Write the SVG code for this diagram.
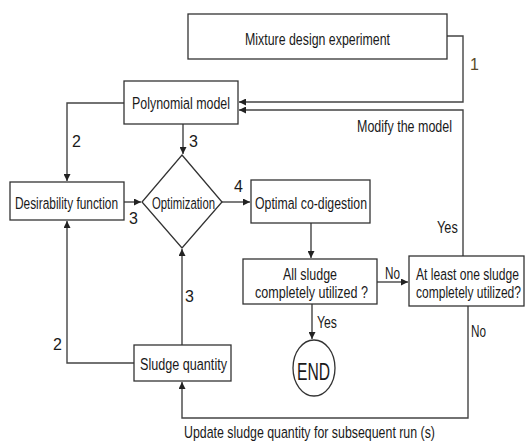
<svg xmlns="http://www.w3.org/2000/svg" width="525" height="443" viewBox="0 0 525 443">
<style>
.box{fill:#fff;stroke:#333;stroke-width:1.3}
.ln{fill:none;stroke:#444;stroke-width:1.4}
text{font-family:"Liberation Sans Narrow","Arial Narrow","Liberation Sans",Arial,sans-serif;font-size:17px;fill:#1a1a1a}
.lb{font-size:16px}
</style>
<defs>
<marker id="ah" viewBox="0 0 8 8" refX="8" refY="4" markerWidth="7" markerHeight="7" markerUnits="userSpaceOnUse" orient="auto">
<path d="M0,0 L8,4 L0,8 z" fill="#222"/>
</marker>
</defs>
<rect width="525" height="443" fill="#fff"/>
<g id="connectors">
<polyline class="ln" points="447,36 463,36 463,102 239,102" marker-end="url(#ah)"/>
<polyline class="ln" points="463,256 463,110 239,110" marker-end="url(#ah)"/>
<polyline class="ln" points="124,103 67,103 67,181" marker-end="url(#ah)"/>
<line class="ln" x1="183" y1="124" x2="183" y2="154" marker-end="url(#ah)"/>
<line class="ln" x1="124" y1="202" x2="141" y2="202" marker-end="url(#ah)"/>
<line class="ln" x1="222" y1="202" x2="250" y2="202" marker-end="url(#ah)"/>
<line class="ln" x1="311" y1="223" x2="311" y2="258" marker-end="url(#ah)"/>
<line class="ln" x1="377" y1="282" x2="408" y2="282" marker-end="url(#ah)"/>
<line class="ln" x1="312" y1="304" x2="312" y2="339" marker-end="url(#ah)"/>
<polyline class="ln" points="468,306 468,418 182,418 182,382" marker-end="url(#ah)"/>
<line class="ln" x1="182" y1="345" x2="182" y2="249" marker-end="url(#ah)"/>
<polyline class="ln" points="134,363 67,363 67,221" marker-end="url(#ah)"/>
</g>
<g id="labels">
<text class="lb" x="470" y="70" style="fill:#5a4a2a">1</text>
<text class="lb" x="72" y="147">2</text>
<text class="lb" x="189" y="147">3</text>
<text class="lb" x="129" y="224">3</text>
<text class="lb" x="234" y="192">4</text>
<text class="lb" x="185" y="302">3</text>
<text class="lb" x="53" y="350">2</text>
<text transform="translate(385 279) scale(0.8 1)" textLength="18.75" lengthAdjust="spacingAndGlyphs">No</text>
<text transform="translate(471 337) scale(0.8 1)" textLength="18.75" lengthAdjust="spacingAndGlyphs">No</text>
<text transform="translate(437 233) scale(0.8 1)" textLength="26" lengthAdjust="spacingAndGlyphs">Yes</text>
<text transform="translate(317 328) scale(0.8 1)" textLength="25" lengthAdjust="spacingAndGlyphs">Yes</text>
<text transform="translate(357 132) scale(0.8 1)" textLength="118.75" lengthAdjust="spacingAndGlyphs">Modify the model</text>
<text transform="translate(184 438) scale(0.8 1)" textLength="313.75" lengthAdjust="spacingAndGlyphs">Update sludge quantity for subsequent run (s)</text>
</g>
<g id="mixture">
<rect class="box" x="188" y="14" width="259" height="45"/>
<text transform="translate(245 45) scale(0.8 1)" textLength="181.25" lengthAdjust="spacingAndGlyphs">Mixture design experiment</text>
</g>
<g id="polynomial">
<rect class="box" x="124" y="81" width="114" height="43"/>
<text transform="translate(132 109) scale(0.8 1)" textLength="122.5" lengthAdjust="spacingAndGlyphs">Polynomial model</text>
</g>
<g id="desirability">
<rect class="box" x="10" y="182" width="114" height="38"/>
<text transform="translate(15 209) scale(0.8 1)" textLength="128.75" lengthAdjust="spacingAndGlyphs">Desirability function</text>
</g>
<g id="optimization">
<polygon class="box" points="182,155 222,202 182,248 142,202"/>
<text transform="translate(152 209) scale(0.8 1)" textLength="78.75" lengthAdjust="spacingAndGlyphs">Optimization</text>
</g>
<g id="optimal">
<rect class="box" x="251" y="180" width="119" height="43"/>
<text transform="translate(255 209) scale(0.8 1)" textLength="140" lengthAdjust="spacingAndGlyphs">Optimal co-digestion</text>
</g>
<g id="allsludge">
<rect class="box" x="243" y="259" width="134" height="45"/>
<text transform="translate(283 280) scale(0.8 1)" textLength="67.5" lengthAdjust="spacingAndGlyphs">All sludge</text>
<text transform="translate(255 298) scale(0.8 1)" textLength="141.25" lengthAdjust="spacingAndGlyphs">completely utilized ?</text>
</g>
<g id="atleast">
<rect class="box" x="409" y="256" width="115" height="50"/>
<text transform="translate(416 280) scale(0.7 1)" textLength="147" lengthAdjust="spacingAndGlyphs">At least one sludge</text>
<text transform="translate(416 298) scale(0.7 1)" textLength="150" lengthAdjust="spacingAndGlyphs">completely utilized?</text>
</g>
<g id="sludge">
<rect class="box" x="134" y="345" width="97" height="36"/>
<text transform="translate(140 370) scale(0.8 1)" textLength="108.75" lengthAdjust="spacingAndGlyphs">Sludge quantity</text>
</g>
<g id="end">
<ellipse class="box" cx="314" cy="368" rx="21" ry="28"/>
<text transform="translate(297 380) scale(0.8 1)" style="font-size:24px" textLength="41.25" lengthAdjust="spacingAndGlyphs">END</text>
</g>
</svg>
